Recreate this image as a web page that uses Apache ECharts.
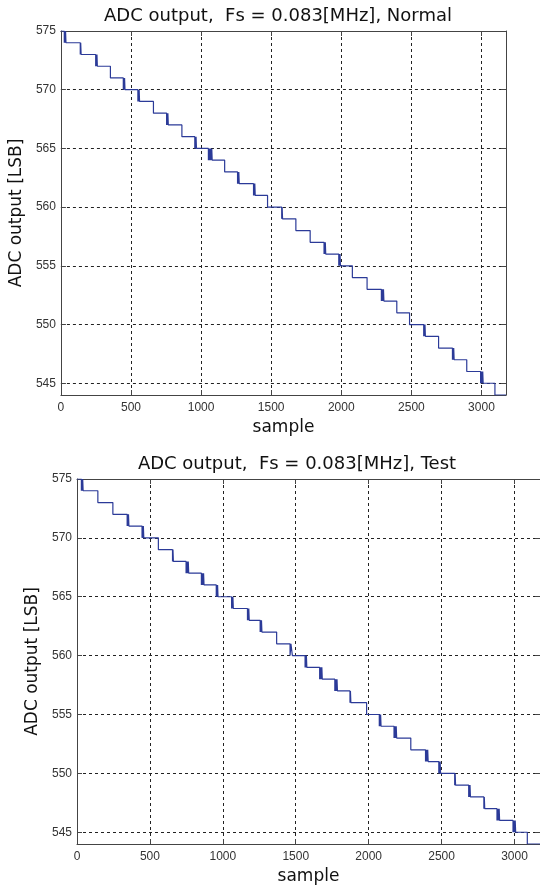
<!DOCTYPE html>
<html>
<head>
<meta charset="utf-8">
<script src="https://cdn.jsdelivr.net/npm/echarts@6/dist/echarts.min.js"></script>
<style>
html,body{margin:0;padding:0;background:#fff;}
#chart{width:540px;height:888px;}
</style>
</head>
<body>
<div id="chart"></div>
<script>
// ---- data ----
const titleTop = "ADC output,  Fs = 0.083[MHz], Normal";
const titleBottom = "ADC output,  Fs = 0.083[MHz], Test";
const xName = "sample";
const yName = "ADC output [LSB]";
const xTicks = [0, 500, 1000, 1500, 2000, 2500, 3000];
const yTicks = [545, 550, 555, 560, 565, 570, 575];
const xMin = 0, xMax = 3175;
const yMin = 544, yMax = 575;
const startCode = 575;

// Each entry: sample indices where the code crosses one LSB step
// (first crossing goes down, then alternates up/down = noisy toggling).
const normalSteps = [
  [24, 27, 30, 33, 36],
  [138, 141, 144],
  [248, 251, 254, 257, 260],
  [353],
  [445, 448, 451, 454, 457],
  [549, 552, 555, 558, 561],
  [660],
  [754, 757, 760, 763, 766],
  [863],
  [955, 958, 961, 964, 967],
  [1052, 1055, 1058, 1061, 1064, 1067, 1070, 1076, 1079],
  [1168],
  [1260, 1263, 1266, 1269, 1272],
  [1374, 1377, 1380, 1383, 1386],
  [1474],
  [1575, 1578, 1581],
  [1676],
  [1778],
  [1877, 1880, 1883, 1886, 1889],
  [1982, 1985, 1988, 1991, 1994],
  [2079],
  [2184],
  [2286, 2289, 2292, 2295, 2298, 2301, 2304],
  [2396],
  [2487],
  [2588, 2591, 2594, 2597, 2600],
  [2694],
  [2793, 2796, 2799, 2802, 2805],
  [2895],
  [2994, 2997, 3000, 3003, 3006, 3009, 3012],
  [3096]
];
const testSteps = [
  [30, 33, 36, 39, 42],
  [143],
  [246],
  [344, 347, 350, 353, 356],
  [446, 449, 452, 455, 458],
  [558],
  [655, 658, 661],
  [748, 751, 754, 757, 760, 763, 766],
  [853, 856, 859, 862, 865, 868, 871],
  [955, 958, 961, 964, 967],
  [1060, 1063, 1066, 1069, 1072],
  [1169, 1172, 1175, 1178, 1181],
  [1256, 1259, 1262, 1265, 1268],
  [1369],
  [1461, 1467, 1477],
  [1564, 1567, 1570, 1573, 1576],
  [1664, 1667, 1670, 1673, 1676, 1679, 1682],
  [1768, 1771, 1774, 1777, 1780, 1783, 1786],
  [1872, 1875, 1878],
  [1986],
  [2073, 2076, 2079, 2082, 2085],
  [2174, 2177, 2180, 2183, 2186, 2189, 2192],
  [2289],
  [2390, 2393, 2396, 2399, 2402, 2405, 2408],
  [2481, 2484, 2487, 2490, 2493],
  [2590, 2593, 2596],
  [2686, 2689, 2692, 2695, 2698],
  [2790, 2793, 2796],
  [2880, 2883, 2886, 2889, 2892, 2895, 2898],
  [2990, 2993, 2996, 2999, 3002, 3005, 3008],
  [3088]
];

// ---- build step polylines from the crossing lists ----
function buildSeries(steps) {
  const pts = [[xMin, startCode]];
  let level = startCode;
  steps.forEach(list => {
    list.forEach((s, k) => {
      if (k % 2 === 0) { pts.push([s, level]); pts.push([s, level - 1]); }
      else { pts.push([s, level - 1]); pts.push([s, level]); }
    });
    level -= 1;
  });
  pts.push([xMax, level]);
  return pts;
}

const tickFont = 'Liberation Sans Narrow, Arial Narrow, sans-serif';
const mainFont = 'DejaVu Sans, sans-serif';
const axisColor = '#444';
const gridLine = { show: true, lineStyle: { color: '#222', type: [3, 3], width: 1 } };
const plain = v => String(v);

function axesFor(gi) {
  const xs = [
    {
      type: 'value', gridIndex: gi, min: xMin, max: xMax, position: 'bottom',
      name: xName, nameLocation: 'middle', nameGap: 24,
      nameTextStyle: { fontFamily: mainFont, fontSize: 17, color: '#111' },
      axisLine: { show: true, onZero: false, lineStyle: { color: axisColor } },
      axisTick: { show: true, inside: true, length: 5, customValues: xTicks, lineStyle: { color: axisColor } },
      axisLabel: { customValues: xTicks, formatter: plain, margin: 7, fontFamily: tickFont, fontSize: 12, color: '#333' },
      splitLine: gridLine
    },
    {
      type: 'value', gridIndex: gi, min: xMin, max: xMax, position: 'top',
      axisLine: { show: true, onZero: false, lineStyle: { color: axisColor } },
      axisTick: { show: true, inside: true, length: 5, customValues: xTicks, lineStyle: { color: axisColor } },
      axisLabel: { show: false },
      splitLine: { show: false }
    }
  ];
  const ys = [
    {
      type: 'value', gridIndex: gi, min: yMin, max: yMax, position: 'left',
      name: yName, nameLocation: 'middle', nameGap: 31, nameRotate: 90,
      nameTextStyle: { fontFamily: mainFont, fontSize: 17, color: '#111' },
      axisLine: { show: true, onZero: false, lineStyle: { color: axisColor } },
      axisTick: { show: true, inside: true, length: 5, customValues: yTicks, lineStyle: { color: axisColor } },
      axisLabel: { customValues: yTicks, formatter: plain, margin: 5, fontFamily: tickFont, fontSize: 12, color: '#333' },
      splitLine: gridLine
    },
    {
      type: 'value', gridIndex: gi, min: yMin, max: yMax, position: 'right',
      axisLine: { show: true, onZero: false, lineStyle: { color: axisColor } },
      axisTick: { show: true, inside: true, length: 5, customValues: yTicks, lineStyle: { color: axisColor } },
      axisLabel: { show: false },
      splitLine: { show: false }
    }
  ];
  return { xs, ys };
}

const a0 = axesFor(0), a1 = axesFor(1);
const titleFont = '18px DejaVu Sans';

const option = {
  backgroundColor: '#fff',
  animation: false,
  grid: [
    { left: 57, top: 31, width: 449, height: 364, containLabel: false },
    { left: 77, top: 479, width: 464, height: 365, containLabel: false }
  ],
  xAxis: [...a0.xs, ...a1.xs],
  yAxis: [...a0.ys, ...a1.ys],
  graphic: [
    { type: 'text', x: 278, y: 16, style: { text: titleTop, font: titleFont, fill: '#111', align: 'center', verticalAlign: 'middle', textAlign: 'center', textVerticalAlign: 'middle' } },
    { type: 'text', x: 297, y: 464, style: { text: titleBottom, font: titleFont, fill: '#111', align: 'center', verticalAlign: 'middle', textAlign: 'center', textVerticalAlign: 'middle' } }
  ],
  series: [
    {
      type: 'line', xAxisIndex: 0, yAxisIndex: 0, data: buildSeries(normalSteps),
      showSymbol: false, symbol: 'none', lineStyle: { color: '#2B3A98', width: 1.2 }, z: 5
    },
    {
      type: 'line', xAxisIndex: 2, yAxisIndex: 2, data: buildSeries(testSteps),
      showSymbol: false, symbol: 'none', lineStyle: { color: '#2B3A98', width: 1.2 }, z: 5
    }
  ]
};

const chart = echarts.init(document.getElementById('chart'), null, { renderer: 'canvas' });
chart.setOption(option);
</script>
</body>
</html>
